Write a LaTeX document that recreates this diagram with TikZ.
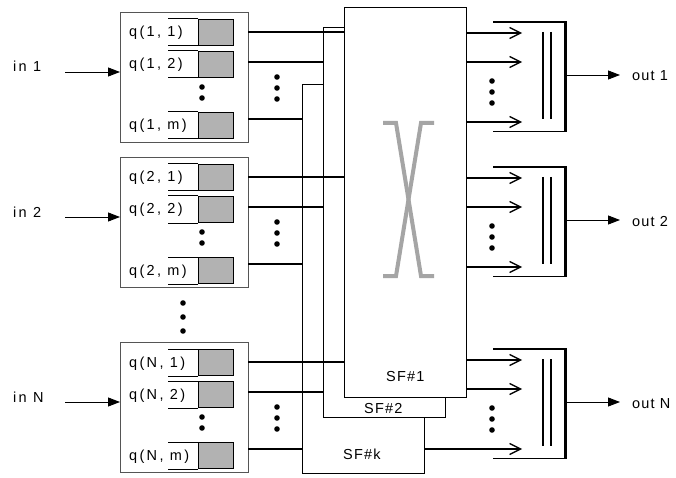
\documentclass[tikz,border=0pt]{standalone}
\usepackage{fontspec}
\setmainfont{Liberation Sans}
\newfontfamily\spaced{Liberation Sans}[LetterSpace=16]
\newfontfamily\lessspaced{Liberation Sans}[LetterSpace=8]
\usetikzlibrary{arrows.meta}
\definecolor{cellgray}{RGB}{178,178,178}
\definecolor{xgray}{RGB}{165,165,165}
\definecolor{boxgray}{RGB}{85,85,85}
\begin{document}
\begin{tikzpicture}[x=1pt,y=-1pt,
  font=\spaced\fontsize{14.5}{16}\selectfont,
  wire/.style={line width=1.3pt},
  grp/.style={draw=boxgray,line width=1pt,fill=white,minimum width=128pt,minimum height=130pt,anchor=north west,inner sep=0pt},
  cellg/.style={draw,line width=1pt,fill=cellgray,minimum width=35pt,minimum height=26pt,anchor=north west,inner sep=0pt},
  sfbox/.style={draw,line width=1.3pt,fill=white,minimum width=122pt,minimum height=390pt,anchor=north west,inner sep=0pt},
  muxbox/.style={minimum width=72pt,minimum height=109pt,anchor=north west,inner sep=0pt},
  lbl/.style={anchor=base west,inner sep=0pt},
  outlbl/.style={anchor=base west,inner sep=0pt,font=\lessspaced\fontsize{14.5}{16}\selectfont},
  inarr/.style={-{Triangle[length=12pt,width=9pt]},line width=0.9pt},
  barb/.style={-{Straight Barb[length=11pt,width=11pt]},wire},
  bigdot/.style={fill=black}
]
\useasboundingbox (0,0) rectangle (676,478);

% switch fabrics
\node[sfbox,minimum height=389pt] (sfk) at (302,84) {};
\node[sfbox] (sf2) at (323,27) {};
\node[sfbox] (sf1) at (344,7) {};
\node[outlbl] (lsf1) at (386,381) {SF\#1};
\node[outlbl] (lsf2) at (364,413) {SF\#2};
\node[outlbl] (lsfk) at (343,459) {SF\#k};
\draw[xgray,line width=4pt] (383,123) -- (396,123) -- (421,276) -- (434,276);
\draw[xgray,line width=4pt] (434,123) -- (421,123) -- (396,276) -- (383,276);

% input groups
\foreach \g/\yy/\lab in {1/12/1, 2/157/2, N/342/N} {
  \node[grp] (g\g) at (120,\yy) {};
  \foreach \c/\off/\rl in {1/7/1, 2/39/2, m/100/m} {
    \node[cellg] (c\g\c) at (198,\yy+\off) {};
    \draw[line width=1pt] (c\g\c.north west) -- ++(-30,0);
    \draw[line width=1pt] (c\g\c.south west) -- ++(-30,0);
    \node[lbl] (t\g\c) at (129,\yy+\off+18) {q(\lab, \rl)};
  }
  \fill[bigdot] (202,\yy+75) circle (2.8pt);
  \fill[bigdot] (202,\yy+86) circle (2.8pt);
  \foreach \dy in {65,76,87} { \fill[bigdot] (277,\yy+\dy) circle (2.8pt); }
  \node[lbl] (in\g) at (13,\yy+60) {in \lab};
  \coordinate (ia\g) at (65,\yy+60);
  \draw[inarr] (ia\g) -- (ia\g -| g\g.west);
  \foreach \c/\off/\target in {1/20/sf1, 2/50/sf2, m/107/sfk} {
    \coordinate (o\g\c) at (248,\yy+\off);
    \draw[wire] (o\g\c) -- (o\g\c -| \target.west);
  }
}
\foreach \dy in {303,317,331} { \fill[bigdot] (183,\dy) circle (2.8pt); }

% output multiplexers
\foreach \o/\tt/\lab in {1/22/1, 2/167/2, N/349/N} {
  \node[muxbox] (m\o) at (493,\tt) {};
  \draw[line width=1.3pt] (m\o.north west) -- (m\o.north east);
  \draw[line width=1.3pt] (m\o.south west) -- (m\o.south east);
  \draw[line width=2.6pt] ([yshift=0.65pt]m\o.north east) -- ([yshift=-0.65pt]m\o.south east);
  \draw[line width=1.2pt] (543,\tt+10) -- (543,\tt+97);
  \draw[line width=1.2pt] (551,\tt+10) -- (551,\tt+97);
  \foreach \dy in {59,70,81} { \fill[bigdot] (492,\tt+\dy) circle (2.8pt); }
  \node[outlbl] (out\o) at (632,\tt+59) {out \lab};
  \coordinate (oe\o) at (565,\tt+53);
  \coordinate (ot\o) at (620,\tt+53);
  \draw[inarr] (oe\o) -- (ot\o);
  \coordinate (a\o1) at (522,\tt+11);
  \coordinate (a\o2) at (522,\tt+40);
  \coordinate (a\o3) at (522,\tt+100);
  \draw[barb] (a\o1 -| sf1.east) -- (a\o1);
  \draw[barb] (a\o2 -| sf1.east) -- (a\o2);
}
\draw[barb] (a13 -| sf1.east) -- (a13);
\draw[barb] (a23 -| sf1.east) -- (a23);
\draw[barb] (aN3 -| sfk.east) -- (aN3);
\end{tikzpicture}
\end{document}
